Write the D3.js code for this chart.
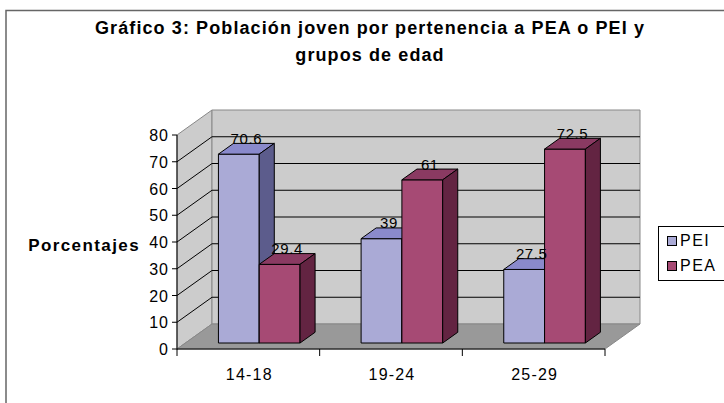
<!DOCTYPE html>
<html>
<head>
<meta charset="utf-8">
<script src="https://cdnjs.cloudflare.com/ajax/libs/d3/7.8.5/d3.min.js"></script>
<style>
  body { margin: 0; background: #fff; }
  text { font-family: Arial, "Liberation Sans", sans-serif; fill: #000; }
</style>
</head>
<body>
<div id="chart"></div>
<script>
var categories = ['14-18', '19-24', '25-29']
var series = ['PEI', 'PEA']
var PEI = [70.6, 39, 27.5]
var PEA = [29.4, 61, 72.5]
var yTicks = [0, 10, 20, 30, 40, 50, 60, 70, 80]
var titleLines = ['Gráfico 3: Población joven por pertenencia a PEA o PEI y', 'grupos de edad']

var values = {PEI: PEI, PEA: PEA}
// front, top, side colours for each series
var colors = {
  PEI: ['#aaaad6', '#8a8acc', '#5c5c8c'],
  PEA: ['#a64a74', '#8a3a62', '#632442']
}

var width = 724, height = 403
var svg = d3.select('#chart').append('svg').attr('width', width).attr('height', height)

// outer frame
svg.append('rect').attr('x', 6).attr('y', 10.5).attr('width', 900).attr('height', 600)
  .attr('fill', 'none').attr('stroke', '#666').attr('stroke-width', 1.5)

var x0 = d3.scaleBand().domain(categories).range([177, 605])
var y = d3.scaleLinear().domain([0, 80]).range([349, 135])

// depth of the box
var DX = 35, DY = -25

function pt(px, py, f) { return [px + DX * f, py + DY * f] }
function poly(pts) { return 'M' + pts.map(function(p){ return p.join(',') }).join('L') + 'Z' }

var x0min = x0.range()[0], x0max = x0.range()[1]

// side wall
svg.append('path')
  .attr('d', poly([pt(x0min, y(0), 0), pt(x0min, y(80), 0), pt(x0min, y(80), 1), pt(x0min, y(0), 1)]))
  .attr('fill', '#cccccc').attr('stroke', '#888').attr('stroke-width', 1)
// back wall
svg.append('path')
  .attr('d', poly([pt(x0min, y(0), 1), pt(x0min, y(80), 1), pt(x0max, y(80), 1), pt(x0max, y(0), 1)]))
  .attr('fill', '#cccccc').attr('stroke', '#888').attr('stroke-width', 1)
// floor
svg.append('path')
  .attr('d', poly([pt(x0min, y(0), 0), pt(x0min, y(0), 1), pt(x0max, y(0), 1), pt(x0max, y(0), 0)]))
  .attr('fill', '#999999').attr('stroke', '#888').attr('stroke-width', 1)

// gridlines: diagonal on side wall + horizontal on back wall
var grid = yTicks.filter(function(d){ return d > 0 && d < 80 })
svg.selectAll('.grid').data(grid).join('path')
  .attr('class', 'grid')
  .attr('d', function(d){
    var a = pt(x0min, y(d), 0), b = pt(x0min, y(d), 1), c = pt(x0max, y(d), 1)
    return 'M' + a + 'L' + b + 'L' + c
  })
  .attr('fill', 'none').attr('stroke', '#000').attr('stroke-width', 1)

// y axis
var yAxis = svg.append('g')
yAxis.append('line').attr('x1', x0min).attr('x2', x0min).attr('y1', y(80)).attr('y2', y(0) + 0.5)
  .attr('stroke', '#000')
yAxis.selectAll('.tick').data(yTicks).join('line')
  .attr('x1', x0min - 5).attr('x2', x0min).attr('y1', function(d){ return y(d) }).attr('y2', function(d){ return y(d) })
  .attr('stroke', '#000')
yAxis.selectAll('.lab').data(yTicks).join('text')
  .attr('x', x0min - 8).attr('y', function(d){ return y(d) + 6 })
  .attr('text-anchor', 'end').style('font-size', '16px').style('letter-spacing', '1px')
  .text(function(d){ return d })

// x axis
var edges = [x0min].concat(categories.map(function(c){ return x0(c) + x0.bandwidth() }))
svg.append('line').attr('x1', x0min).attr('x2', x0max).attr('y1', y(0)).attr('y2', y(0)).attr('stroke', '#000')
svg.selectAll('.xtick').data(edges).join('line')
  .attr('x1', function(d){ return d }).attr('x2', function(d){ return d })
  .attr('y1', y(0)).attr('y2', y(0) + 7).attr('stroke', '#000')
svg.selectAll('.xlab').data(categories).join('text')
  .attr('x', function(d){ return x0(d) + x0.bandwidth() / 2 + 1 })
  .attr('y', 380).attr('text-anchor', 'middle').style('font-size', '16px').style('letter-spacing', '1.2px')
  .text(function(d){ return d })

// bars
var f0 = 0.24, fd = 0.43
var bw = x0.bandwidth() * 0.286
var x1 = d3.scaleBand().domain(series).range([0, bw * 2])
var groupOff = (x0.bandwidth() - bw * 2) / 2 + 2.5

var bars = []
categories.forEach(function(c, i){
  series.forEach(function(s){
    bars.push({cat: c, s: s, v: values[s][i]})
  })
})

var bar = svg.selectAll('.bar').data(bars).join('g').attr('class', 'bar')
bar.each(function(d){
  var g = d3.select(this)
  var xl = x0(d.cat) + groupOff + x1(d.s), xr = xl + x1.bandwidth()
  var front = [pt(xl, y(0), f0), pt(xl, y(d.v), f0), pt(xr, y(d.v), f0), pt(xr, y(0), f0)]
  var top = [pt(xl, y(d.v), f0), pt(xl, y(d.v), f0 + fd), pt(xr, y(d.v), f0 + fd), pt(xr, y(d.v), f0)]
  var side = [pt(xr, y(0), f0), pt(xr, y(d.v), f0), pt(xr, y(d.v), f0 + fd), pt(xr, y(0), f0 + fd)]
  var col = colors[d.s]
  g.append('path').attr('d', poly(front)).attr('fill', col[0]).attr('stroke', '#000').attr('stroke-width', 1)
  g.append('path').attr('d', poly(top)).attr('fill', col[1]).attr('stroke', '#000').attr('stroke-width', 1)
  g.append('path').attr('d', poly(side)).attr('fill', col[2]).attr('stroke', '#000').attr('stroke-width', 1)
})

// value labels, drawn last so they sit over the bars
bars.forEach(function(d){
  var xl = x0(d.cat) + groupOff + x1(d.s)
  var p = pt(xl + x1.bandwidth() / 2, y(d.v), f0 + fd / 2)
  svg.append('text').attr('x', p[0]).attr('y', pt(0, y(d.v), f0 + fd)[1] + 0.5)
    .attr('text-anchor', 'middle').style('font-size', '15px').style('letter-spacing', '0.6px')
    .text(d.v)
})

// title
svg.selectAll('.title').data(titleLines).join('text')
  .attr('x', 370).attr('y', function(d, i){ return 34 + i * 27 })
  .attr('text-anchor', 'middle').style('font-size', '18px').style('font-weight', 'bold')
  .style('letter-spacing', '1.1px')
  .text(function(d){ return d })

// y axis title
svg.append('text').attr('x', 140).attr('y', 251).attr('text-anchor', 'end')
  .style('font-size', '17px').style('font-weight', 'bold').style('letter-spacing', '1.4px')
  .text('Porcentajes')

// legend
var leg = svg.append('g')
leg.append('rect').attr('x', 658.5).attr('y', 226.5).attr('width', 100).attr('height', 54)
  .attr('fill', '#fff').attr('stroke', '#000')
series.forEach(function(s, i){
  leg.append('rect').attr('x', 667.5).attr('y', 236.5 + i * 25).attr('width', 9).attr('height', 9)
    .attr('fill', colors[s][0]).attr('stroke', '#000')
  leg.append('text').attr('x', 680).attr('y', 246 + i * 25).style('font-size', '16px')
    .style('letter-spacing', '1.5px').text(s)
})
</script>
</body>
</html>
